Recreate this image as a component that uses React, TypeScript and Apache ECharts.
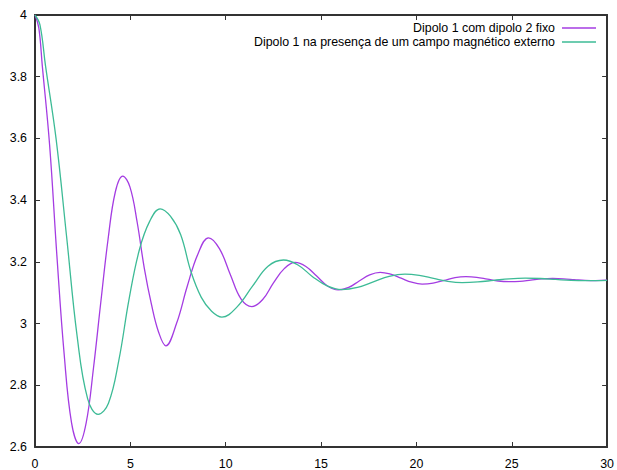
import React, { useEffect, useRef } from "react";
import * as echarts from "echarts";

const seriesNames = [
  "Dipolo 1 com dipolo 2 fixo",
  "Dipolo 1 na presença de um campo magnético externo",
];

const xTicks = [0, 5, 10, 15, 20, 25, 30];
const yTicks = [2.6, 2.8, 3, 3.2, 3.4, 3.6, 3.8, 4];

// Dipolo 1 com dipolo 2 fixo (purple): peaks, troughs and points between them
const purpleX = [
  0, 0.2, 0.383, 0.767, 1.15, 1.533, 1.917,
  2.3, 2.683, 3.067, 3.45, 3.833, 4.217,
  4.6, 4.977, 5.353, 5.73, 6.107, 6.483,
  6.86, 7.42, 7.98, 8.54,
  9.1, 9.67, 10.235, 10.8,
  11.37, 11.94, 12.505, 13.07,
  13.64, 14.205, 14.77, 15.335,
  15.9, 16.45, 17.0, 17.55,
  18.1, 18.65, 19.2, 19.75,
  20.3, 20.875, 21.45, 22.025,
  22.6, 23.16, 23.725, 24.29,
  24.85, 25.425, 26.0, 26.575,
  27.15, 27.71, 28.275, 28.84,
  29.4, 30,
];
const purpleY = [
  4.0, 3.958, 3.835, 3.578, 3.218, 2.898, 2.678,
  2.611, 2.678, 2.856, 3.069, 3.274, 3.428,
  3.478, 3.443, 3.33, 3.18, 3.062, 2.972,
  2.928, 3.0, 3.12, 3.225,
  3.278, 3.243, 3.16, 3.08,
  3.055, 3.078, 3.132, 3.178,
  3.198, 3.185, 3.154, 3.122,
  3.109, 3.117, 3.138, 3.158,
  3.166, 3.16, 3.147, 3.134,
  3.128, 3.131, 3.14, 3.149,
  3.152, 3.15, 3.144, 3.138,
  3.136, 3.137, 3.141, 3.145,
  3.146, 3.145, 3.1425, 3.14,
  3.139, 3.1405,
];

// Dipolo 1 na presença de um campo magnético externo (green)
const greenX = [
  0, 0.26, 0.552, 1.103, 1.655, 2.207, 2.758,
  3.31, 3.852, 4.393, 4.935, 5.477, 6.018,
  6.56, 7.1, 7.64, 8.18, 8.72, 9.26,
  9.8, 10.61, 11.415, 12.22,
  13.03, 13.79, 14.555, 15.32,
  16.08, 16.91, 17.74, 18.57,
  19.4, 20.15, 20.9, 21.65,
  22.4, 23.225, 24.05, 24.875,
  25.7, 26.5, 27.3, 28.1,
  28.9, 30,
];
const greenY = [
  4.0, 3.968, 3.835, 3.6, 3.283, 2.96, 2.757,
  2.706, 2.742, 2.88, 3.08, 3.24, 3.332,
  3.372, 3.348, 3.288, 3.168, 3.085, 3.04,
  3.021, 3.055, 3.122, 3.186,
  3.206, 3.19, 3.152, 3.122,
  3.11, 3.117, 3.135, 3.153,
  3.16, 3.156, 3.1465, 3.137,
  3.133, 3.135, 3.14, 3.145,
  3.147, 3.146, 3.143, 3.14,
  3.139, 3.14,
];

const colors = ["#a43ce2", "#3dbb96"];

const zip = (xs: number[], ys: number[]) => xs.map((x, i) => [x, ys[i]]);

export default function App() {
  const ref = useRef<HTMLDivElement>(null);

  useEffect(() => {
    if (!ref.current) return;
    const chart = echarts.init(ref.current, undefined, { renderer: "svg" });
    const font = "Liberation Sans";
    const fs = 12.4;
    const frame = { show: true, lineStyle: { color: "#333333", width: 2 } };
    const tick = { show: true, inside: true, length: 5, lineStyle: { color: "#333333", width: 1 } };
    const xBase = {
      type: "value",
      min: xTicks[0],
      max: xTicks[xTicks.length - 1],
      interval: xTicks[1] - xTicks[0],
      splitLine: { show: false },
      axisLine: { ...frame, onZero: false },
      axisTick: tick,
    };
    const yBase = {
      type: "value",
      min: yTicks[0],
      max: yTicks[yTicks.length - 1],
      interval: 0.2,
      splitLine: { show: false },
      axisLine: { ...frame, onZero: false },
      axisTick: tick,
    };
    const legendBase = {
      right: 16,
      align: "right",
      icon: "rect",
      itemWidth: 34,
      itemHeight: 1.5,
      textStyle: { fontFamily: font, fontSize: fs, color: "#000", padding: [0, 2, 0, 0] },
    };
    chart.setOption({
      animation: false,
      backgroundColor: "#ffffff",
      grid: { left: 35, right: 9, top: 15, bottom: 19, containLabel: false },
      legend: [
        { ...legendBase, data: [seriesNames[0]], top: 17 },
        { ...legendBase, data: [seriesNames[1]], top: 31 },
      ],
      xAxis: [
        {
          ...xBase,
          position: "bottom",
          axisLabel: {
            margin: 11,
            fontFamily: font,
            fontSize: fs,
            color: "#000",
            formatter: (v: number) => String(v),
          },
        },
        { ...xBase, position: "top", axisLabel: { show: false } },
      ],
      yAxis: [
        {
          ...yBase,
          position: "left",
          axisLabel: {
            margin: 8,
            fontFamily: font,
            fontSize: fs,
            color: "#000",
            formatter: (v: number) => String(Math.round(v * 10) / 10),
          },
        },
        { ...yBase, position: "right", axisLabel: { show: false } },
      ],
      series: [
        {
          name: seriesNames[0],
          type: "line",
          xAxisIndex: 0,
          yAxisIndex: 0,
          data: zip(purpleX, purpleY),
          smooth: 0.4,
          showSymbol: false,
          color: colors[0],
          lineStyle: { color: colors[0], width: 1.3 },
        },
        {
          name: seriesNames[1],
          type: "line",
          xAxisIndex: 0,
          yAxisIndex: 0,
          data: zip(greenX, greenY),
          smooth: 0.4,
          showSymbol: false,
          color: colors[1],
          lineStyle: { color: colors[1], width: 1.3 },
        },
      ],
    });
    return () => chart.dispose();
  }, []);

  return (
    <div
      ref={ref}
      style={{ position: "absolute", left: 0, top: 0, width: 617, height: 470, background: "#fff" }}
    />
  );
}
